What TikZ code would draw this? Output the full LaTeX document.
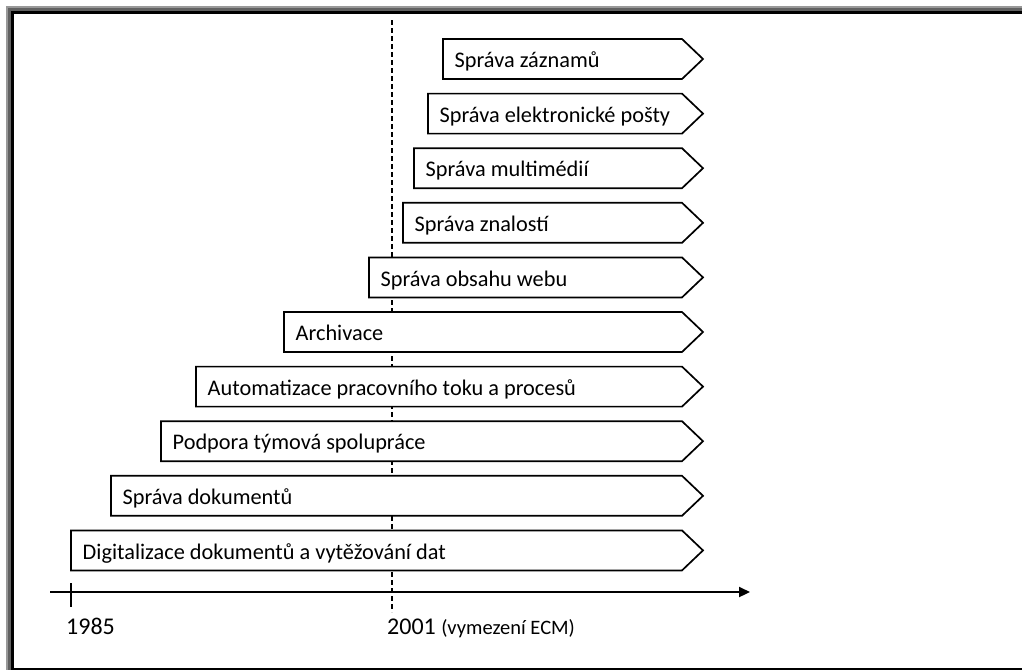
\documentclass[tikz,border=0pt]{standalone}
\usepackage{fontspec}
\setmainfont{Carlito}
\usetikzlibrary{arrows.meta,positioning}
\tikzset{
  stage/.style = {draw=black, fill=white, line width=1.7pt, line join=miter},% pole s hrotem
  stagetext/.style = {anchor=base west, inner sep=0pt,
    font=\fontsize{22.3}{26}\selectfont},
  yearlabel/.style = {anchor=base west, inner sep=0pt,
    font=\fontsize{24}{28}\selectfont},
  axis/.style = {line width=2.2pt, -{Triangle[length=11pt,width=10pt]}},
  ecmline/.style = {line width=1.4pt, dash pattern=on 5pt off 3pt},
  frameband/.style = {fill=black!62}
}
\begin{document}
\begin{tikzpicture}[x=1pt,y=-1pt]
  \useasboundingbox (0,0) rectangle (1022,670);
  % ramecek
  \fill[black!40] (6,6) rectangle (1022,8);
  \fill[black!40] (6,6) rectangle (8,670);
  \fill[frameband] (8,8) rectangle (1022,11);
  \fill[frameband] (8,8) rectangle (11,670);
  \fill[black] (11,11) rectangle (1022,13.5);
  \fill[black] (11,11) rectangle (13.5,670);
  \fill[black] (11,667.5) rectangle (1022,670);

  % hranice 2001
  \coordinate (ecmtop) at (392,20);
  \coordinate (ecmbot) at (392,612);
  \draw[ecmline] (ecmtop) -- (ecmbot);

  % jednotlive oblasti
  \foreach \lx/\txt [count=\i from 0] in {
      443/Správa záznamů,
      428/Správa elektronické pošty,
      414/Správa multimédií,
      403/Správa znalostí,
      369/Správa obsahu webu,
      284/Archivace,
      196/Automatizace pracovního toku a procesů,
      161/Podpora týmová spolupráce,
      111/Správa dokumentů,
      71/Digitalizace dokumentů a vytěžování dat}{
    \pgfmathsetmacro\ty{39+54.6*\i}
    \draw[stage] (\lx,\ty) -- (682,\ty) -- (703,\ty+20) -- (682,\ty+40)
      -- (\lx,\ty+40) -- cycle;
    \node[stagetext] (s\i) at (\lx+11.5,\ty+28.7) {\txt};
  }

  % casova osa
  \coordinate (axstart) at (50,592);
  \coordinate (axend) at (750,592);
  \draw[axis] (axstart) -- (axend);
  \coordinate (ticktop) at (71,583);
  \coordinate (tickbot) at (71,607);
  \draw[line width=1.7pt] (ticktop) -- (tickbot);

  \node[yearlabel] (y1985) at (66,634) {1985};
  \node[yearlabel] (y2001) at (387,634)
    {2001 {\fontsize{20.5}{24}\selectfont(vymezení ECM)}};
\end{tikzpicture}
\end{document}
